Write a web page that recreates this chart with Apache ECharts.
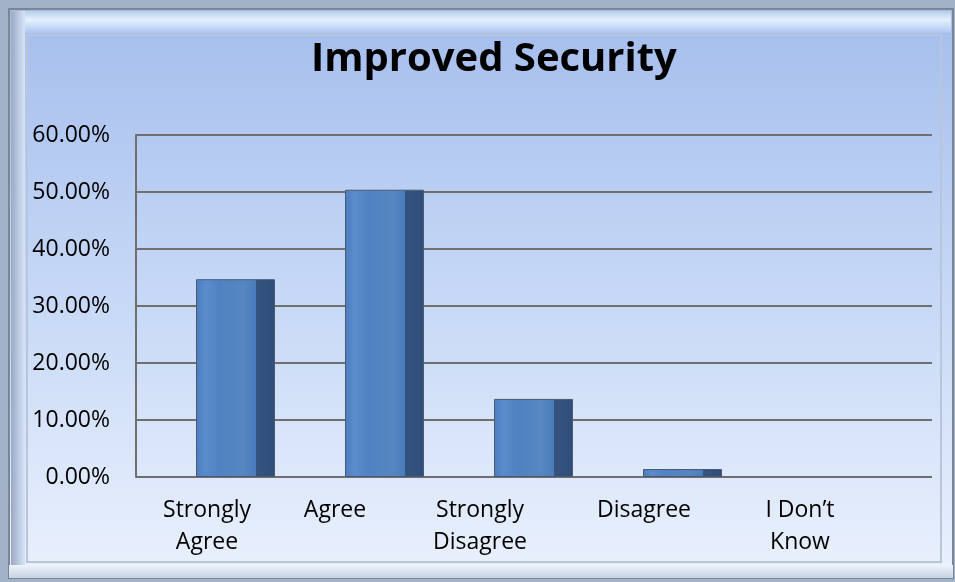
<!DOCTYPE html>
<html>
<head>
<meta charset="utf-8">
<script src="https://cdn.jsdelivr.net/npm/echarts@6/dist/echarts.min.js"></script>
<style>html,body{margin:0;padding:0;background:#a2b2c8;}#c{width:955px;height:582px;}</style>
</head>
<body>
<div id="c"></div>
<script>
const titleText = 'Improved Security';
const categories = ['Strongly\nAgree', 'Agree', 'Strongly\nDisagree', 'Disagree', 'I Don\u2019t\nKnow'];
const values = [34.7, 50.4, 13.7, 1.4, 0];
const yMin = 0, yMax = 60, yStep = 10;

const labelPad = [57, 99, 107, 77, 63];
const FONT = 'Open Sans';
const rich = {};
labelPad.forEach((p, i) => {
  rich['c' + i] = { fontFamily: FONT, fontSize: 23, lineHeight: 32, color: '#000', padding: [0, p, 0, 0] };
});

const chart = echarts.init(document.getElementById('c'), null, { renderer: 'canvas' });
chart.setOption({
  animation: false,
  backgroundColor: '#a2b2c8',
  graphic: [
    { type: 'rect', z: -10, shape: { x: 9, y: 9, width: 944, height: 569 },
      style: { fill: new echarts.graphic.LinearGradient(0, 0, 0, 1, [
        { offset: 0, color: '#a4bdec' }, { offset: 0.5, color: '#c6d8f6' }, { offset: 1, color: '#eaf1fd' }]),
        stroke: '#7d8594', lineWidth: 2 } },
    { type: 'rect', z: -9, shape: { x: 11, y: 11, width: 940, height: 22 },
      style: { fill: new echarts.graphic.LinearGradient(0, 0, 0, 1, [
        { offset: 0, color: '#b9cbe6' }, { offset: 0.4, color: '#e3f1ff' }, { offset: 1, color: '#aec6ee' }]) } },
    { type: 'rect', z: -9, shape: { x: 11, y: 11, width: 14, height: 565 },
      style: { fill: new echarts.graphic.LinearGradient(0, 0, 1, 0, [
        { offset: 0, color: '#9aaac4' }, { offset: 1, color: '#d6e3f7' }]) } },
    { type: 'rect', z: -8, shape: { x: 27, y: 35, width: 914, height: 527 },
      style: { fill: 'none', stroke: '#b9c6da', lineWidth: 2 } },
    { type: 'rect', z: -8, shape: { x: 9, y: 565, width: 944, height: 13 },
      style: { fill: new echarts.graphic.LinearGradient(0, 0, 0, 1, [
        { offset: 0, color: '#eef3fb' }, { offset: 1, color: '#c9d3e2' }]) } }
  ],
  title: {
    text: titleText, left: 306, top: 35,
    textStyle: { fontFamily: FONT, fontSize: 40, fontWeight: 'bold', color: '#000' }
  },
  grid: [
    { left: 136, right: 23, top: 135, bottom: 105 },
    { left: 161, right: 49, top: 135, bottom: 105 }
  ],
  xAxis: [
    { type: 'category', gridIndex: 0, data: categories, show: false },
    { type: 'category', gridIndex: 1, data: categories,
      axisLine: { show: false }, axisTick: { show: false },
      axisLabel: { margin: 17, interval: 0,
        formatter: (v, i) => v.split('\n').map(l => '{c' + i + '|' + l + '}').join('\n'),
        rich: rich } }
  ],
  yAxis: [
    { type: 'value', gridIndex: 0, min: yMin, max: yMax, interval: yStep,
      axisLine: { show: true, lineStyle: { color: '#6f6f6f', width: 2 } },
      axisTick: { show: false },
      splitLine: { show: true, lineStyle: { color: '#6f6f6f', width: 2 } },
      axisLabel: { margin: 26, fontFamily: FONT, fontSize: 23, color: '#000',
        formatter: v => v.toFixed(2) + '%' } },
    { type: 'value', gridIndex: 1, min: yMin, max: yMax, interval: yStep, show: false,
      splitLine: { show: false } }
  ],
  series: [{
    type: 'bar', xAxisIndex: 1, yAxisIndex: 1, barWidth: 79,
    data: values.map(v => v === 0 ? { value: v, itemStyle: { borderWidth: 0, opacity: 0 } } : v),
    itemStyle: {
      color: new echarts.graphic.LinearGradient(0, 0, 1, 0, [
        { offset: 0, color: '#4b7dbf' }, { offset: 0.12, color: '#5a8bcb' },
        { offset: 0.3, color: '#5082c2' }, { offset: 0.6, color: '#5687c1' },
        { offset: 0.76, color: '#4a7cbd' }, { offset: 0.76, color: '#34547f' },
        { offset: 1, color: '#2f4d78' }]),
      borderColor: '#4a5a70', borderWidth: 1
    }
  }]
});
</script>
</body>
</html>
